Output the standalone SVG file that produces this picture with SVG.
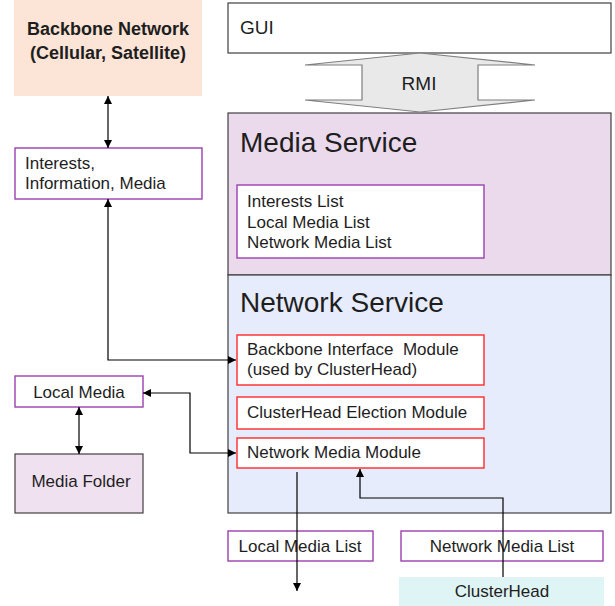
<svg xmlns="http://www.w3.org/2000/svg" width="615" height="606" viewBox="0 0 615 606">
<defs>
<style>
text{font-family:"Liberation Sans",Arial,sans-serif;fill:#1e1e1e;}
.t{font-size:17px;}
.ttl{font-size:28px;}
.sec{stroke:#404040;stroke-width:1.2;}
.pb{fill:#fff;stroke:#9b3fb0;stroke-width:1.4;}
.rb{fill:#fff;stroke:#ff2a2a;stroke-width:1.4;}
.c{fill:none;stroke:#000;stroke-width:1.2;}
</style>
<marker id="ah" viewBox="0 0 10 10" refX="10" refY="5" markerWidth="8" markerHeight="8" markerUnits="userSpaceOnUse" orient="auto-start-reverse">
<path d="M0,0 L10,5 L0,10 z" fill="#000"/>
</marker>
</defs>
<rect width="615" height="606" fill="#fff"/>

<g id="backbone">
<rect x="14" y="0" width="188" height="96" fill="#fce5d7"/>
<text x="108" y="35" font-size="18" font-weight="bold" text-anchor="middle">Backbone Network</text>
<text x="108" y="59" font-size="18" font-weight="bold" text-anchor="middle">(Cellular, Satellite)</text>
</g>

<g id="gui">
<rect x="228" y="3" width="383" height="50" fill="#fff" stroke="#404040" stroke-width="1.2"/>
<text x="240" y="34" font-size="19">GUI</text>
</g>

<g id="media-service">
<rect class="sec" x="228" y="113" width="383" height="162" fill="#ebd9ec"/>
<text class="ttl" x="240" y="152">Media Service</text>
</g>

<g id="network-service">
<rect class="sec" x="228" y="275" width="383" height="238" fill="#e6ecfb"/>
<text class="ttl" x="240" y="312">Network Service</text>
</g>

<g id="rmi">
<polygon points="420,53 535,65 478,65 478,100 535,100 420,112 305,100 362,100 362,65 305,65" fill="#e9e9e9" stroke="#7f7f7f" stroke-width="1.2"/>
<text x="419" y="90" font-size="19" text-anchor="middle">RMI</text>
</g>

<g id="lists">
<rect class="pb" x="237" y="185" width="247" height="73"/>
<text class="t" x="247" y="207">Interests List</text>
<text class="t" x="247" y="228">Local Media List</text>
<text class="t" x="247" y="248">Network Media List</text>
</g>

<g id="backbone-interface">
<rect class="rb" x="237" y="335" width="247" height="50"/>
<text class="t" x="247" y="355" xml:space="preserve">Backbone Interface  Module</text>
<text class="t" x="247" y="375">(used by ClusterHead)</text>
</g>

<g id="election">
<rect class="rb" x="237" y="397" width="247" height="32"/>
<text class="t" x="247" y="418">ClusterHead Election Module</text>
</g>

<g id="network-media-module">
<rect class="rb" x="237" y="438" width="247" height="30"/>
<text class="t" x="247" y="458">Network Media Module</text>
</g>

<g id="interests">
<rect class="pb" x="15" y="148" width="187" height="51"/>
<text class="t" x="25" y="169">Interests,</text>
<text class="t" x="25" y="189">Information, Media</text>
</g>

<g id="local-media">
<rect class="pb" x="15" y="376" width="128" height="31"/>
<text class="t" x="79" y="398" text-anchor="middle">Local Media</text>
</g>

<g id="media-folder">
<rect x="15" y="454" width="128" height="59" fill="#efe1f0" stroke="#404040" stroke-width="1.2"/>
<text class="t" x="81" y="487" text-anchor="middle">Media Folder</text>
</g>

<g id="local-media-list">
<rect class="pb" x="228" y="531" width="145" height="30"/>
<text class="t" x="300" y="552" text-anchor="middle">Local Media List</text>
</g>

<g id="network-media-list">
<rect class="pb" x="401" y="531" width="202" height="30"/>
<text class="t" x="502" y="552" text-anchor="middle">Network Media List</text>
</g>

<g id="clusterhead">
<rect x="399" y="577" width="205" height="29" fill="#dff4f4"/>
<text class="t" x="502" y="597" text-anchor="middle">ClusterHead</text>
</g>

<g id="connectors">
<line class="c" x1="108" y1="96" x2="108" y2="148" marker-start="url(#ah)" marker-end="url(#ah)"/>
<polyline class="c" points="108,199 108,360 236,360" marker-start="url(#ah)" marker-end="url(#ah)"/>
<line class="c" x1="79" y1="407" x2="79" y2="454" marker-start="url(#ah)" marker-end="url(#ah)"/>
<polyline class="c" points="143,393 190,393 190,453 236,453" marker-start="url(#ah)" marker-end="url(#ah)"/>
<line class="c" x1="297" y1="472" x2="297" y2="591" marker-end="url(#ah)"/>
<polyline class="c" points="503,577 503,498 360,498 360,469" marker-end="url(#ah)"/>
</g>
</svg>
